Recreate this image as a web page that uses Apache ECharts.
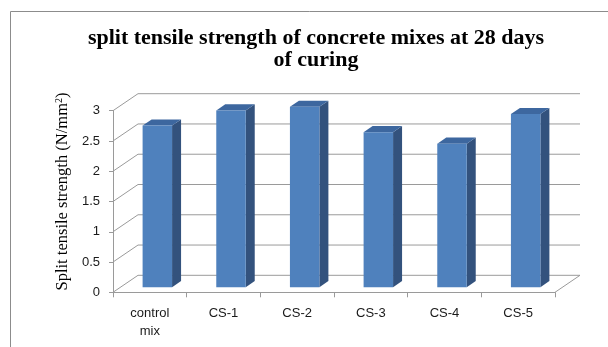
<!DOCTYPE html>
<html>
<head>
<meta charset="utf-8">
<script src="https://cdn.jsdelivr.net/npm/echarts@6/dist/echarts.min.js"></script>
<style>
  html, body { margin: 0; padding: 0; background: #ffffff; }
  #chart { width: 608px; height: 347px; }
</style>
</head>
<body>
<div id="chart"></div>
<script>
// Split tensile strength at 28 days of curing
const categories = ['control\nmix', 'CS-1', 'CS-2', 'CS-3', 'CS-4', 'CS-5'];
const strength = [2.67, 2.92, 2.98, 2.56, 2.37, 2.86];
const yTicks = [0, 0.5, 1, 1.5, 2, 2.5, 3];

// perspective offset of the back wall (px) and bar placement inside the depth
const DEPTH_X = 25, DEPTH_Y = 17;
const BAR_FRONT = 0.3, BAR_DEPTH = 0.36;

const GRID_COLOR = '#9a9a9a';
const FRONT = '#4f81bd', SIDE = '#33527d', TOP = '#3d679f';

const chart = echarts.init(document.getElementById('chart'), null, { renderer: 'canvas' });

function renderGridLine(params, api) {
  const v = api.value(0);
  const cs = params.coordSys;
  const y = api.coord([0, v])[1];
  const x0 = cs.x, x1 = cs.x + cs.width;
  const children = [{
    type: 'polyline',
    shape: { points: [[x0, y], [x0 + DEPTH_X, y - DEPTH_Y], [x1 + DEPTH_X, y - DEPTH_Y]] },
    style: { stroke: GRID_COLOR, lineWidth: 1, fill: null }
  }];
  if (v === 0) {
    children.push({
      type: 'line',
      shape: { x1: x1, y1: y, x2: x1 + DEPTH_X, y2: y - DEPTH_Y },
      style: { stroke: GRID_COLOR, lineWidth: 1 }
    });
  }
  return { type: 'group', children: children };
}

function renderBar(params, api) {
  const idx = api.value(0);
  const v = api.value(1);
  const top = api.coord([idx, v]);
  const base = api.coord([idx, 0]);
  const w = api.size([1, 0])[0] * 0.4;
  const ox = BAR_FRONT * DEPTH_X, oy = BAR_FRONT * DEPTH_Y;
  const bx = BAR_DEPTH * DEPTH_X, by = BAR_DEPTH * DEPTH_Y;
  const xl = top[0] + ox - w / 2, xr = top[0] + ox + w / 2;
  const yt = top[1] - oy, yb = base[1] - oy;
  return {
    type: 'group',
    children: [
      { type: 'polygon', shape: { points: [[xr, yt], [xr + bx, yt - by], [xr + bx, yb - by], [xr, yb]] },
        style: { fill: SIDE } },
      { type: 'polygon', shape: { points: [[xl, yt], [xl + bx, yt - by], [xr + bx, yt - by], [xr, yt]] },
        style: { fill: TOP } },
      { type: 'rect', shape: { x: xl, y: yt, width: xr - xl, height: yb - yt },
        style: { fill: FRONT } }
    ]
  };
}

chart.setOption({
  animation: false,
  title: {
    text: 'split tensile strength of concrete mixes at 28 days\nof curing',
    left: 311,
    top: 22,
    textAlign: 'center',
    textStyle: {
      fontFamily: 'Liberation Serif',
      fontWeight: 'bold',
      fontSize: 22,
      lineHeight: 22,
      color: '#000000'
    }
  },
  graphic: [{
    type: 'rect',
    shape: { x: 10.5, y: 11.5, width: 700, height: 400 },
    style: { fill: null, stroke: '#8c8c8c', lineWidth: 1 },
    silent: true,
    z: -10
  }],
  grid: { left: 113, right: 53, top: 110.7, bottom: 54.7, containLabel: false },
  xAxis: {
    type: 'category',
    data: categories,
    boundaryGap: true,
    axisLine: { show: true, lineStyle: { color: GRID_COLOR } },
    axisTick: { show: true, length: 5, lineStyle: { color: GRID_COLOR } },
    axisLabel: {
      margin: 12,
      fontFamily: 'Liberation Sans',
      fontSize: 13,
      lineHeight: 18,
      color: '#1a1a1a'
    },
    splitLine: { show: false }
  },
  yAxis: {
    type: 'value',
    min: 0,
    max: 3,
    interval: 0.5,
    axisLine: { show: true, lineStyle: { color: GRID_COLOR } },
    axisTick: { show: true, length: 4, lineStyle: { color: GRID_COLOR } },
    axisLabel: {
      margin: 13,
      fontFamily: 'Liberation Sans',
      fontSize: 13,
      color: '#1a1a1a'
    },
    splitLine: { show: false },
    name: 'Split tensile strength (N/mm{sup|2})',
    nameLocation: 'middle',
    nameGap: 42,
    nameRotate: 90,
    nameTextStyle: {
      fontFamily: 'Liberation Serif',
      fontSize: 16.5,
      color: '#000000',
      padding: [0, 0, 0, 20],
      rich: {
        sup: { fontFamily: 'Liberation Serif', fontSize: 10, verticalAlign: 'top', padding: [0, 0, 6, 0], color: '#000000' }
      }
    }
  },
  series: [
    {
      type: 'custom',
      name: 'grid',
      renderItem: renderGridLine,
      data: yTicks.map(v => [v]),
      encode: { y: 0 },
      silent: true,
      z: 1
    },
    {
      type: 'custom',
      name: 'strength',
      renderItem: renderBar,
      data: strength.map((v, i) => [i, v]),
      encode: { x: 0, y: 1 },
      z: 2
    }
  ]
});
</script>
</body>
</html>
